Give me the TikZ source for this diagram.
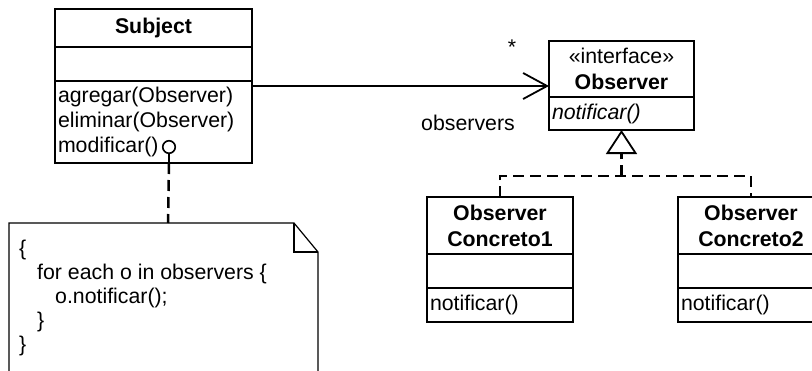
\documentclass[tikz,border=0pt]{standalone}
\usepackage{fontspec}
\setmainfont{Liberation Sans}
\usetikzlibrary{arrows.meta,calc}
\newcommand{\fs}{\fontsize{21.3}{25}\selectfont}
\newcommand{\fsn}{\fontsize{21.3}{26}\selectfont}
\newcommand{\fsnote}{\fontsize{21.3}{24.2}\selectfont}
\tikzset{
  comp/.style={draw, line width=1.5pt, anchor=north west, inner sep=0pt, outer sep=0pt, font=\fs},
  namecomp/.style={comp, font=\bfseries\fsn, align=center},
  meth/.style={comp, inner xsep=3pt, align=left},
  dashedconn/.style={line width=2.5pt, dash pattern=on 11pt off 6pt},
  lbl/.style={font=\fs, inner sep=0pt}
}
\begin{document}
\begin{tikzpicture}[x=1pt,y=-1pt]
\useasboundingbox (0,0) rectangle (812,370);
\clip (0,0) rectangle (812,370);

% Subject
\node[namecomp, minimum width=197pt, minimum height=38pt] (subjN) at (55,9) {Subject};
\node[comp, minimum width=197pt, minimum height=34pt] (subjA) at (subjN.south west) {};
\node[meth, text width=191pt, minimum height=82pt] (subjM) at (subjA.south west)
  {agregar(Observer)\\eliminar(Observer)\\modificar()};

% Observer interface
\node[comp, minimum width=145pt, minimum height=56pt, align=center, font=\fsn] (obsN) at (549,41)
  {«interface»\\\textbf{Observer}};
\node[meth, text width=139pt, minimum height=33pt, font=\fs\itshape] (obsM) at (obsN.south west) {notificar()};

% Concrete observers
\node[namecomp, minimum width=146pt, minimum height=57pt] (c1N) at (427,197) {Observer\\Concreto1};
\node[comp, minimum width=146pt, minimum height=34pt] (c1A) at (c1N.south west) {};
\node[meth, text width=140pt, minimum height=34pt] (c1M) at (c1A.south west) {notificar()};

\node[namecomp, minimum width=146pt, minimum height=57pt] (c2N) at (678,197) {Observer\\Concreto2};
\node[comp, minimum width=146pt, minimum height=34pt] (c2A) at (c2N.south west) {};
\node[meth, text width=140pt, minimum height=34pt] (c2M) at (c2A.south west) {notificar()};

% association
\coordinate (assocStart) at ($(subjM.north east)+(0,5)$);
\draw[line width=1.2pt, -{Straight Barb[length=24pt, width=26pt, line width=1.8pt]}]
  (assocStart) -- (assocStart -| obsN.west);
\node[lbl] (star) at (512,47) {*};
\node[lbl] (obslbl) at (468,123) {observers};

% realization
\coordinate (junction) at ($(obsM.south)+(0,46)$);
\draw[dashedconn] (c1N.north) -- (c1N.north |- junction) -- (c2N.north |- junction) -- (c2N.north);
\draw[dashedconn, -{Triangle[open, length=24pt, width=31pt, line width=1.8pt]}]
  (junction) -- (obsM.south);

% lollipop and note
\node[draw, circle, line width=1.6pt, minimum size=12.5pt, inner sep=0pt] (lol) at (169,147) {};
\draw[line width=1.8pt] (lol.south) -- (lol.south |- subjM.south);
\coordinate (notetop) at (168,223);
\draw[dashedconn] (lol.south |- subjM.south) -- (notetop);
\draw[line width=1.2pt] (9,223) -- (294,223) -- (318,252) -- (318,380) -- (9,380) -- cycle;
\draw[line width=1.2pt] (294,223) -- (294,252) -- (318,252);
\node[anchor=west, align=left, inner sep=0pt, font=\fsnote] (notetext) at (19,298)
  {\{\\\hspace*{18pt}for each o in observers \{\\\hspace*{36pt}o.notificar();\\\hspace*{18pt}\}\\\}};
\end{tikzpicture}
\end{document}
